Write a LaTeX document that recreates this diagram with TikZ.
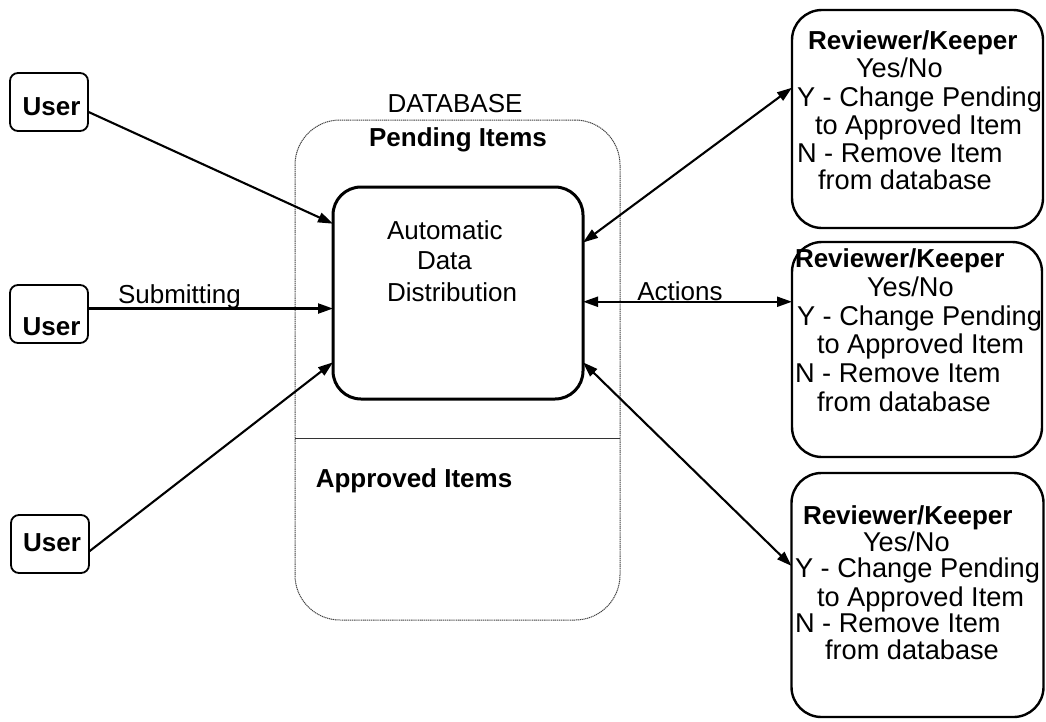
\documentclass[tikz,border=0pt]{standalone}
\usepackage{fontspec}
\setmainfont{Liberation Sans}
\usetikzlibrary{arrows.meta,calc}
\begin{document}
\begin{tikzpicture}[x=1pt,y=-1pt,
  every node/.style={font=\fontsize{26}{28}\selectfont, inner sep=0pt, outer sep=0pt},
  userbox/.style={draw, line width=1.8pt, rounded corners=8pt, minimum width=78pt, minimum height=58pt},
  dbbox/.style={draw=black!75, line width=1pt, dash pattern=on 1.2pt off 0.7pt, rounded corners=45pt},
  addbox/.style={draw, line width=3pt, rounded corners=28pt, minimum width=250pt, minimum height=212pt},
  keeperbox/.style={draw, line width=2.4pt, rounded corners=30pt},
  txt/.style={anchor=base west},
  ktxt/.style={anchor=base west, font=\fontsize{27.2}{28}\selectfont},
  btxt/.style={anchor=base west, font=\fontsize{26}{28}\selectfont\bfseries},
  link/.style={line width=2.1pt, -{Triangle[length=15pt,width=10pt]}},
  dlink/.style={line width=2.1pt, {Triangle[length=15pt,width=10pt]}-{Triangle[length=15pt,width=10pt]}}
]
\useasboundingbox (0,0) rectangle (1046,721);

% database container with its two sections
\node[dbbox, minimum width=325pt, minimum height=500pt] (db) at (457.5,370) {};
\draw[black!80, line width=1pt] (db.west |- 0,438) -- (db.east |- 0,438);
\node[anchor=base] (dbtitle) at (455,112) {DATABASE};
\node[anchor=base, font=\fontsize{26}{28}\selectfont\bfseries] (pending) at (458,146) {Pending Items};
\node[anchor=base, font=\fontsize{26}{28}\selectfont\bfseries] (approved) at (414,487) {Approved Items};

% distribution engine
\node[addbox] (add) at (458,293) {};
\node[txt] (add1) at (387,239) {Automatic};
\node[txt] (add2) at (417,269) {Data};
\node[txt] (add3) at (387,301) {Distribution};

% users
\node[userbox] (u1) at (49,102) {};
\node[anchor=base, font=\fontsize{26}{28}\selectfont\bfseries] (u1t) at (51.5,115) {User};
\node[userbox] (u2) at (49,314) {};
\node[anchor=base, font=\fontsize{26}{28}\selectfont\bfseries] (u2t) at (51.5,335) {User};
\node[userbox] (u3) at (50,544) {};
\node[anchor=base, font=\fontsize{26}{28}\selectfont\bfseries] (u3t) at (52,551) {User};

% reviewers
\node[keeperbox, minimum width=251pt, minimum height=218pt] (r1) at (917.5,119) {};
\node[btxt] (r1a) at (808,49) {Reviewer/Keeper};
\node[ktxt] (r1b) at (856,77) {Yes/No};
\node[ktxt] (r1c) at (797,106) {Y - Change Pending};
\node[ktxt] (r1d) at (815,134) {to Approved Item};
\node[ktxt] (r1e) at (797,162) {N - Remove Item};
\node[ktxt] (r1f) at (818,189) {from database};

\node[keeperbox, minimum width=250pt, minimum height=215pt] (r2) at (917,349.5) {};
\node[btxt] (r2a) at (795,267) {Reviewer/Keeper};
\node[ktxt] (r2b) at (867,296) {Yes/No};
\node[ktxt] (r2c) at (797,325) {Y - Change Pending};
\node[ktxt] (r2d) at (817,353) {to Approved Item};
\node[ktxt] (r2e) at (795,382) {N - Remove Item};
\node[ktxt] (r2f) at (817,411) {from database};

\node[keeperbox, minimum width=252pt, minimum height=244pt] (r3) at (917.5,595) {};
\node[btxt] (r3a) at (803,524) {Reviewer/Keeper};
\node[ktxt] (r3b) at (863,551) {Yes/No};
\node[ktxt] (r3c) at (795,577) {Y - Change Pending};
\node[ktxt] (r3d) at (817,606) {to Approved Item};
\node[ktxt] (r3e) at (795,632) {N - Remove Item};
\node[ktxt] (r3f) at (825,659) {from database};

% submissions
\draw[link] (u1.-14.4) -- (add.151.5);
\draw[link] (u2.8.7) -- (add.west |- u2.8.7);
\node[txt] (submit) at (118,303) {Submitting};
\draw[link] (u3.-11.6) -- (add.209.2);

% review actions
\draw[dlink] (add.22.2) -- (r1.166.1);
\draw[dlink] (add.-4.1) -- (r2.west |- add.-4.1);
\node[anchor=base] (actions) at (680,300) {Actions};
\draw[dlink] (add.-29.2) -- (r3.167.9);
\end{tikzpicture}
\end{document}
